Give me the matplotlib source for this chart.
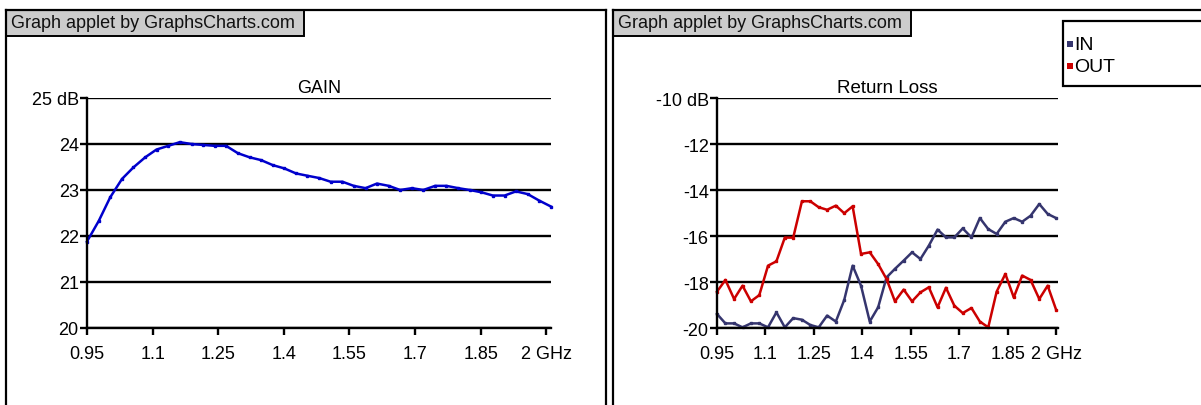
import matplotlib
matplotlib.use("Agg")
import matplotlib.pyplot as plt
from matplotlib.patches import Rectangle
from matplotlib.lines import Line2D

plt.rcParams['font.family'] = ['Liberation Sans', 'DejaVu Sans']

W, H = 1201, 406

# --- data ---
gain_freq = [0.95, 0.977, 1.003, 1.03, 1.056, 1.083, 1.109, 1.136, 1.162, 1.189,
             1.215, 1.242, 1.268, 1.295, 1.322, 1.348, 1.375, 1.401, 1.428, 1.454,
             1.481, 1.507, 1.534, 1.56, 1.587, 1.613, 1.64, 1.666, 1.693, 1.719,
             1.746, 1.772, 1.799, 1.825, 1.852, 1.878, 1.905, 1.931, 1.958, 1.984,
             2.011]
gain_db = [21.88, 22.33, 22.84, 23.24, 23.49, 23.71, 23.88, 23.96, 24.04, 24.0,
           23.98, 23.96, 23.96, 23.80, 23.71, 23.65, 23.54, 23.47, 23.36, 23.31,
           23.26, 23.18, 23.18, 23.09, 23.04, 23.14, 23.09, 23.0, 23.04, 23.0,
           23.09, 23.09, 23.04, 23.0, 22.95, 22.88, 22.88, 22.97, 22.91, 22.77,
           22.64]

rl_freq = [0.95, 0.976, 1.003, 1.029, 1.055, 1.081, 1.108, 1.134, 1.16, 1.186,
           1.213, 1.239, 1.265, 1.291, 1.318, 1.344, 1.37, 1.396, 1.423, 1.449,
           1.475, 1.501, 1.528, 1.554, 1.58, 1.606, 1.633, 1.659, 1.685, 1.711,
           1.738, 1.764, 1.79, 1.816, 1.843, 1.869, 1.895, 1.921, 1.948, 1.974,
           2.0]
rl_in = [-19.39, -19.80, -19.80, -19.97, -19.80, -19.80, -19.97, -19.32, -19.97, -19.57,
         -19.64, -19.87, -19.97, -19.46, -19.72, -18.78, -17.29, -18.16, -19.72, -19.10,
         -17.80, -17.43, -17.07, -16.71, -17.00, -16.42, -15.72, -16.06, -16.06, -15.67,
         -16.06, -15.22, -15.70, -15.91, -15.38, -15.22, -15.38, -15.12, -14.61, -15.04,
         -15.22]
rl_out = [-18.42, -17.91, -18.74, -18.16, -18.84, -18.57, -17.29, -17.10, -16.07, -16.07,
          -14.49, -14.49, -14.75, -14.86, -14.68, -15.01, -14.71, -16.78, -16.71, -17.22,
          -17.87, -18.84, -18.33, -18.84, -18.45, -18.23, -19.10, -18.25, -19.03, -19.35,
          -19.13, -19.72, -19.97, -18.42, -17.65, -18.67, -17.72, -17.91, -18.74, -18.16,
          -19.20]

x_ticks = [0.95, 1.1, 1.25, 1.4, 1.55, 1.7, 1.85, 2.0]
x_labels = ['0.95', '1.1', '1.25', '1.4', '1.55', '1.7', '1.85', '2 GHz']
gain_ticks = [20, 21, 22, 23, 24, 25]
gain_labels = ['20', '21', '22', '23', '24', '25 dB']
rl_ticks = [-20, -18, -16, -14, -12, -10]
rl_labels = ['-20', '-18', '-16', '-14', '-12', '-10 dB']

series_names = ['IN', 'OUT']
series_colors = ['#35356e', '#cc0000']

FS = 13


def fx(x):
    return x / W


def fy(y):
    return 1 - y / H


fig = plt.figure(figsize=(W / 100, H / 100), dpi=100)
fig.patch.set_facecolor('white')


def panel(x0, x1):
    # outer frame (left, top, right edges; bottom runs off the picture)
    for xs, ys in [((x0, x0), (11, H + 5)), ((x0, x1), (11, 11)), ((x1, x1), (11, H + 5))]:
        fig.add_artist(Line2D([fx(v) for v in xs], [fy(v) for v in ys],
                              color='black', lw=1.6))
    # header label box
    fig.add_artist(Rectangle((fx(x0), fy(37)), 298 / W, 26 / H,
                             facecolor='#cccccc', edgecolor='black', lw=1.4))
    fig.text(fx(x0 + 5), fy(24), 'Graph applet by GraphsCharts.com',
             fontsize=13, va='center', ha='left', color='#111111')


def style_axes(ax, yticks, ylabels):
    ax.set_xticks(x_ticks)
    ax.set_xticklabels(x_labels)
    ax.set_yticks(yticks)
    ax.set_yticklabels(ylabels)
    ax.set_ylim(yticks[0], yticks[-1])
    for s in ['top', 'right']:
        ax.spines[s].set_visible(False)
    for s in ['left', 'bottom']:
        ax.spines[s].set_linewidth(1.7)
    ax.tick_params(axis='both', length=5, width=1.7, labelsize=FS)
    ax.tick_params(axis='x', pad=7)
    ax.tick_params(axis='y', pad=1)
    ax.yaxis.grid(True, color='black', lw=1.7)
    ax.set_axisbelow(True)
    ax.patch.set_alpha(0)


panel(6, 606)
panel(613, 1210)

# GAIN chart
ax1 = fig.add_axes([fx(87), fy(329), (551 - 87) / W, (329 - 99) / H])
ax1.plot(gain_freq, gain_db, color='#0000cc', lw=1.8, marker='s', ms=1.5, clip_on=False)
ax1.set_xlim(0.95, 2.011)
style_axes(ax1, gain_ticks, gain_labels)
ax1.set_title('GAIN', fontsize=FS, pad=4)

# Return Loss chart
ax2 = fig.add_axes([fx(717), fy(329), (1058 - 717) / W, (329 - 99) / H])
ax2.plot(rl_freq, rl_in, color=series_colors[0], lw=1.8, marker='s', ms=1.5, clip_on=False)
ax2.plot(rl_freq, rl_out, color=series_colors[1], lw=1.8, marker='s', ms=1.5, clip_on=False)
ax2.set_xlim(0.95, 2.006)
style_axes(ax2, rl_ticks, rl_labels)
ax2.set_title('Return Loss', fontsize=FS + 0.5, pad=4)

# legend box
fig.add_artist(Rectangle((fx(1063), fy(87)), 150 / W, 65 / H,
                         facecolor='white', edgecolor='black', lw=1.6))
for i, (name, col) in enumerate(zip(series_names, series_colors)):
    yc = 45 + i * 22
    fig.add_artist(Rectangle((fx(1067), fy(yc + 3)), 6 / W, 6 / H,
                             facecolor=col, edgecolor='none'))
    fig.text(fx(1074), fy(yc), name, fontsize=FS + 1, va='center', ha='left',
             family=['Liberation Sans Narrow', 'Liberation Sans'])

fig.savefig('out.png', dpi=100)
